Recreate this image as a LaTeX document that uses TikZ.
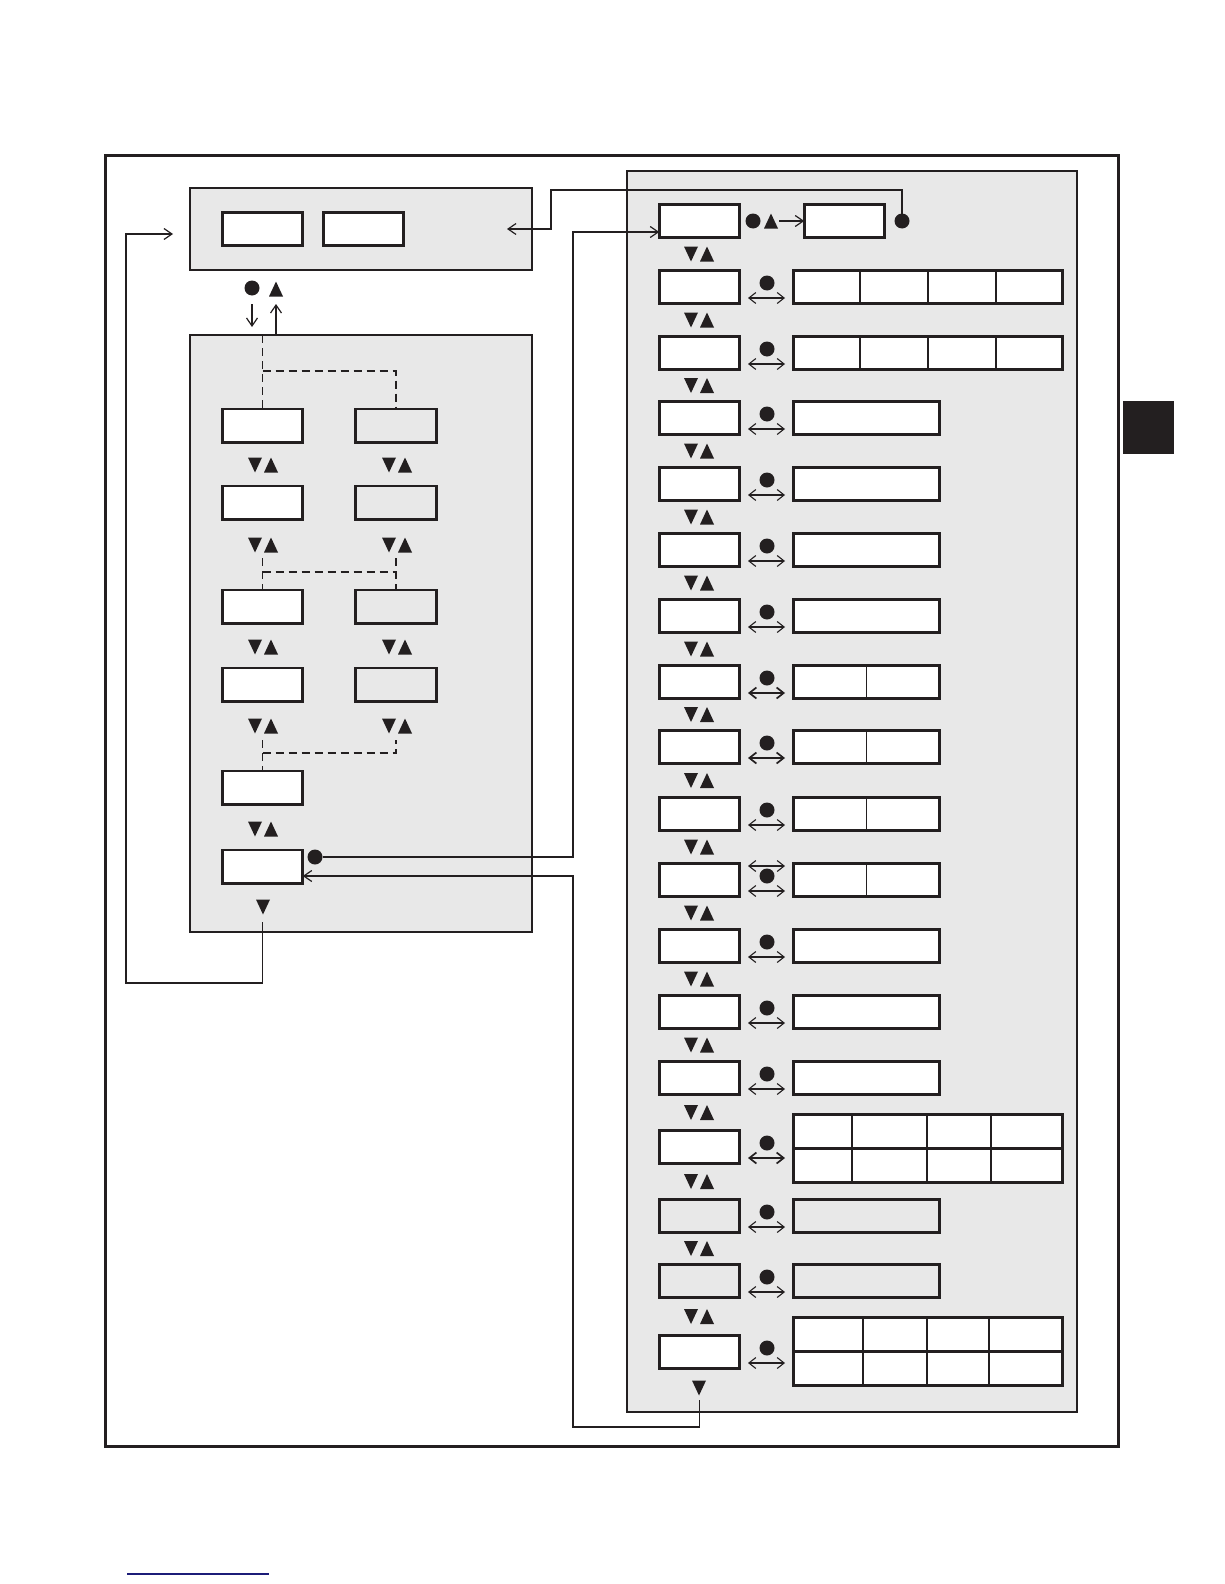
\documentclass[tikz,border=0pt]{standalone}
\usetikzlibrary{arrows.meta}
\definecolor{ink}{RGB}{35,31,32}
\definecolor{panel}{RGB}{232,232,232}
\definecolor{navy}{RGB}{28,28,120}
\tikzset{
  box/.style={draw=ink, line width=2.6pt, fill=white, minimum width=80.5pt, minimum height=33.4pt, inner sep=0pt, outer sep=0pt},
  gbox/.style={box, fill=panel},
  pnl/.style={draw=ink, line width=1.3pt, fill=panel, inner sep=0pt, outer sep=0pt},
  conn/.style={draw=ink, line width=1.3pt},
  tip/.style={-{Straight Barb[length=8pt,width=11pt,line width=1.2pt]}},
  dbl/.style={draw=ink, line width=1.1pt, {Straight Barb[length=7pt,width=11pt]}-{Straight Barb[length=7pt,width=11pt]}},
  dblb/.style={dbl, line width=1.7pt},
  dashln/.style={draw=ink, line width=1.3pt, dash pattern=on 8pt off 5pt},
  dotsym/.style={circle, fill=ink, inner sep=0pt, outer sep=0pt, minimum size=15pt},
  divthin/.style={draw=ink, line width=1.5pt},
  divthick/.style={draw=ink, line width=2.2pt},
}
\newcommand{\tdn}[2]{\fill[ink] ({#1-7},{#2-7.5}) -- ({#1+7},{#2-7.5}) -- ({#1},{#2+7.5}) -- cycle;}
\newcommand{\tup}[2]{\fill[ink] ({#1-7},{#2+7.5}) -- ({#1+7},{#2+7.5}) -- ({#1},{#2-7.5}) -- cycle;}
\newcommand{\tpair}[2]{\tdn{#1-8}{#2}\tup{#1+8}{#2}}
\begin{document}
\begin{tikzpicture}[x=1pt,y=-1pt]
\useasboundingbox (0,0) rectangle (1224,1584);
% outer frame, tab, bottom rule
\draw[ink, line width=3pt] (105,155) rectangle (1118,1446);
\fill[ink] (1123,401) rectangle (1174,454);
\draw[navy, line width=1.5pt] (127,1574) -- (269,1574);

% panels
\node[pnl, minimum width=342pt, minimum height=82pt] (toppanel) at (361,229) {};
\node[pnl, minimum width=342pt, minimum height=597pt] (leftpanel) at (361,633.5) {};
\node[pnl, minimum width=450pt, minimum height=1241pt] (rightpanel) at (852,791.5) {};

% named points for connectors
\coordinate (jx) at (573,0);
\coordinate (tin) at (173,234);
\coordinate (tpin) at (507,229);
\coordinate (lbot) at (262.5,922);
\coordinate (rbot) at (699.5,1400);
\coordinate (rlow) at (699.5,1427);

% top panel content
\node[box] (t1) at (262.5,229) {};
\node[box] (t2) at (363.5,229) {};
\node[dotsym] (tdot) at (252,288) {};
\tup{276}{289}
\coordinate (dnA) at (252,304);
\coordinate (dnB) at (252,327);
\coordinate (upA) at (276,335);
\coordinate (upB) at (276,304);
\draw[conn, tip, line width=1.1pt] (dnA) -- (dnB);
\draw[conn, tip, line width=1.1pt] (upA) -- (upB);

% left panel boxes
\node[box]  (a1) at (262.5,425.5) {};
\node[gbox] (b1) at (396,425.5) {};
\node[box]  (a2) at (262.5,502.5) {};
\node[gbox] (b2) at (396,502.5) {};
\node[box]  (a3) at (262.5,606.5) {};
\node[gbox] (b3) at (396,606.5) {};
\node[box]  (a4) at (262.5,684.5) {};
\node[gbox] (b4) at (396,684.5) {};
\node[box]  (a5) at (262.5,787.5) {};
\node[box]  (a6) at (262.5,866.5) {};
\node[dotsym] (ldot) at (315,857) {};

\tpair{263}{465}\tpair{397}{465}
\tpair{263}{545}\tpair{397}{545}
\tpair{263}{647}\tpair{397}{647}
\tpair{263}{726}\tpair{397}{726}
\tpair{263}{829}
\tdn{263}{907}

% dashed branches
\draw[dashln] (262.5,335) -- (a1.north);
\draw[dashln] (262.5,371) -| (b1.north);
\draw[dashln] (262.5,558) -- (a3.north);
\draw[dashln] (396,558) -- (b3.north);
\draw[dashln] (262.5,572) -- (396,572);
\draw[dashln] (262.5,740) -- (a5.north);
\draw[dashln] (262.5,753) -| (396,740);

% right panel boxes
\foreach \i/\t in {0/203,1/269,2/335,3/400,4/466,5/532,6/598,7/664,8/729,9/796,10/862,11/928,12/994,13/1060,14/1129,17/1334}
  \node[box] (r\i) at (699.5,\t+18) {};
\foreach \i/\t in {15/1198,16/1263}
  \node[gbox] (r\i) at (699.5,\t+18) {};

% row 0
\node[box] (r0b) at (844.5,221) {};
\node[dotsym] (r0dot) at (753,221) {};
\tup{771}{221}
\coordinate (r0a) at (779,221);
\draw[conn, tip, line width=1.2pt] (r0a) -- (r0b.west);
\node[dotsym] (rdot) at (902,221) {};

% value boxes
\foreach \i/\t in {3/400,4/466,5/532,6/598,11/928,12/994,13/1060}
  \node[box, minimum width=146.4pt] (v\i) at (866.5,\t+18) {};
\foreach \i/\t in {15/1198,16/1263}
  \node[gbox, minimum width=146.4pt] (v\i) at (866.5,\t+18) {};
\foreach \i/\t in {7/664,8/729,9/796,10/862}{
  \node[box, minimum width=146.4pt] (v\i) at (866.5,\t+18) {};
  \draw[divthin] (v\i.north) -- (v\i.south);
}
\foreach \i/\t in {1/269,2/335}{
  \node[box, minimum width=269.4pt] (v\i) at (928,\t+18) {};
  \draw[divthin] (v\i.north) -- (v\i.south);
  \draw[divthin] ([xshift=-68pt]v\i.north) -- ([xshift=-68pt]v\i.south);
  \draw[divthin] ([xshift=68pt]v\i.north) -- ([xshift=68pt]v\i.south);
}
\node[box, minimum width=269.4pt, minimum height=68.4pt] (v14) at (928,1148.5) {};
\draw[divthick] (v14.west) -- (v14.east);
\foreach \s in {-76,-1,63}
  \draw[divthick] ([xshift=\s pt]v14.north) -- ([xshift=\s pt]v14.south);
\node[box, minimum width=269.4pt, minimum height=68.4pt] (v17) at (928,1351.5) {};
\draw[divthick] (v17.west) -- (v17.east);
\foreach \s in {-65,-1,61}
  \draw[divthick] ([xshift=\s pt]v17.north) -- ([xshift=\s pt]v17.south);

% dots and double arrows
\foreach \i/\t in {1/269,2/335,3/400,4/466,5/532,6/598,9/796,10/862,11/928,12/994,13/1060,15/1198,16/1263,17/1334}{
  \node[dotsym] (d\i) at (767,\t+14) {};
  \draw[dbl] (748,\t+29) -- (785,\t+29);
}
\foreach \i/\t in {7/664,8/729,14/1129}{
  \node[dotsym] (d\i) at (767,\t+14) {};
  \draw[dblb] (748,\t+29) -- (785,\t+29);
}
\draw[dbl] (748,866) -- (785,866);

% up/down triangles in right panel
\foreach \y in {254,320,385.5,451,517,583,649,714.5,780.5,847,913,979,1045,1112.5,1181.5,1248.5,1316.5}{
  \tpair{699}{\y}
}
\tdn{699}{1388}

% connectors
\coordinate (r0in) at ([yshift=-11pt]r0.west);
\coordinate (a6in) at ([yshift=-9.5pt]a6.east);
\draw[conn, tip] (ldot.east) -- (ldot.east -| jx) -- (r0in -| jx) -- (r0in);
\draw[conn, tip] (rbot) -- (rlow) -- (rlow -| jx) -- (a6in -| jx) -- (a6in);
\draw[conn, tip] (lbot) |- (126,983) |- (tin);
\draw[conn, tip, line width=1.2pt] (rdot.north) -- (902,190) -| (551,229) -- (tpin);
\end{tikzpicture}
\end{document}
